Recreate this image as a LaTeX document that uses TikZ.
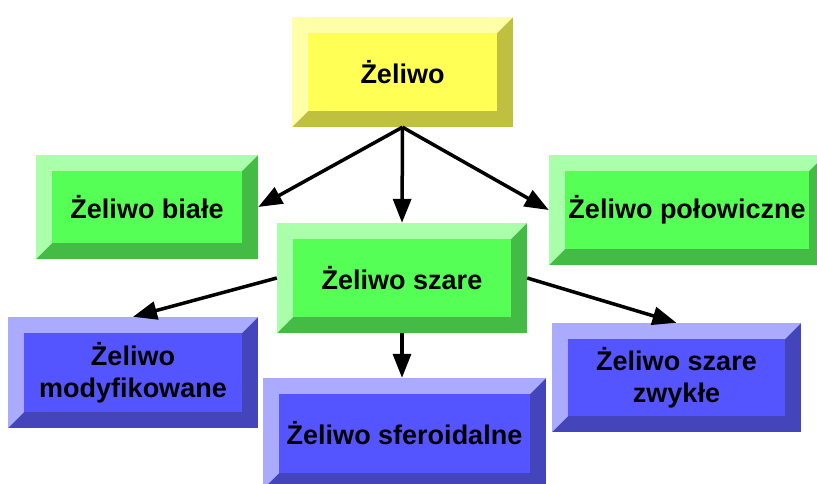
\documentclass[tikz,border=0pt]{standalone}
\usepackage{fontspec}
\setmainfont{Liberation Sans}
\usetikzlibrary{arrows.meta}
\definecolor{yface}{HTML}{FFFF55}
\definecolor{ylight}{HTML}{FFFFAA}
\definecolor{ydark}{HTML}{BFBF40}
\definecolor{gface}{HTML}{55FF55}
\definecolor{glight}{HTML}{AAFFAA}
\definecolor{gdark}{HTML}{44BB44}
\definecolor{bface}{HTML}{5555FF}
\definecolor{blight}{HTML}{AAAAFF}
\definecolor{bdark}{HTML}{4444BB}
\begin{document}
\begin{tikzpicture}[x=1pt,y=-1pt,
  bevbox/.style n args={3}{
    fill=#3, inner sep=0pt, align=center,
    font=\bfseries\fontsize{27}{32}\selectfont,
    path picture={
      \fill[#1] (path picture bounding box.north west)
        -- (path picture bounding box.north east)
        -- ([shift={(-16pt,-16pt)}]path picture bounding box.north east)
        -- ([shift={(16pt,-16pt)}]path picture bounding box.north west)
        -- ([shift={(16pt,16pt)}]path picture bounding box.south west)
        -- (path picture bounding box.south west) -- cycle;
      \fill[#2] ([shift={(16pt,-16pt)}]path picture bounding box.north west)
        rectangle ([shift={(-16pt,16pt)}]path picture bounding box.south east);
    }},
  ybox/.style={bevbox={ylight}{yface}{ydark}},
  gbox/.style={bevbox={glight}{gface}{gdark}},
  bbox/.style={bevbox={blight}{bface}{bdark}},
  arr/.style={line width=3.5pt, -{Triangle[length=24pt,width=18pt]}}
]
\useasboundingbox (0,0) rectangle (817,483);
\clip (0,0) rectangle (817,483);

\node[ybox, minimum width=221pt, minimum height=110pt] (top) at (402.5,72) {Żeliwo};
\node[gbox, minimum width=222pt, minimum height=104pt] (biale) at (147,207) {Żeliwo białe};
\node[gbox, minimum width=276pt, minimum height=110pt] (polo) at (687,210) {Żeliwo połowiczne};
\node[gbox, minimum width=250pt, minimum height=110pt] (szare) at (402,278) {Żeliwo szare};
\node[bbox, minimum width=250pt, minimum height=111pt] (modyf) at (133,372.5) {Żeliwo\\modyfikowane};
\node[bbox, minimum width=283pt, minimum height=111pt] (sfer) at (404.5,433.5) {Żeliwo sferoidalne};
\node[bbox, minimum width=249pt, minimum height=109pt] (zwykle) at (676.5,377.5) {Żeliwo szare\\zwykłe};

\draw[arr] (top.south) -- (biale.east);
\draw[arr] (top.south) -- (szare.north);
\draw[arr] (top.south) -- (polo.west);
\draw[arr] (szare.west) -- (modyf.north);
\draw[arr] (szare.east) -- (zwykle.north);
\draw[arr] (szare.south) -- (szare.south |- sfer.north);
\end{tikzpicture}
\end{document}
